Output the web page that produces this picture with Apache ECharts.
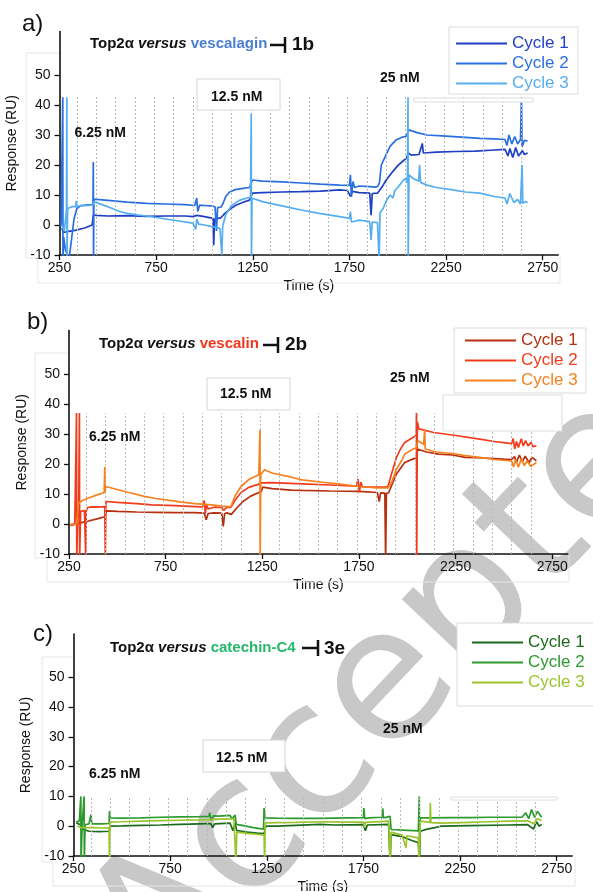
<!DOCTYPE html>
<html><head><meta charset="utf-8">
<script src="https://cdn.jsdelivr.net/npm/echarts@6/dist/echarts.min.js"></script>
<style>html,body{margin:0;padding:0;background:#fff}#c{width:593px;height:892px}</style>
</head><body><div id="c"></div>
<script>
// ---------- tick labels / markers ----------
const timeTicks = [250, 750, 1250, 1750, 2250, 2750];
const responseTicks = [-10, 0, 10, 20, 30, 40, 50];
const injectionMarks = [340,440,540,640,740,840,940,1040,1140,1240,1340,1440,1540,1640,1740,1840,1940,2040,2140,2240,2340,2440,2540,2640];
const markTops = [42.7, 37, 10];           // top of dotted markers, panels a,b,c
const cycleNames = ['Cycle 1', 'Cycle 2', 'Cycle 3'];
const panelLetters = ['a)', 'b)', 'c)'];
const compounds = ['vescalagin', 'vescalin', 'catechin-C4'];
const compoundCodes = ['1b', '2b', '3e'];
const concLabels = ['6.25 nM', '12.5 nM', '25 nM'];

// ---------- panel a : vescalagin (time s, response RU) ----------
const aCycle1 = [[262,-1],[270,-2.5],[290,-2.2],[330,-1.8],[380,-1],[419,0],[422,0.2],[425,3.4],[440,3.2],[500,3],[600,3.1],[700,2.9],[800,3],[900,3],[940,2.8],[960,3.2],[1000,2.8],[1044,2.2],[1048,-6.7],[1052,2],[1070,2.2],[1085,2.4],[1100,3.5],[1130,5.2],[1160,6.5],[1200,7.6],[1233,8.3],[1240,8.6],[1248,10.6],[1300,10.8],[1400,11],[1500,11.1],[1600,11.3],[1700,11.7],[1740,11.5],[1755,9.5],[1765,11.2],[1800,10.8],[1855,10.6],[1862,3.3],[1868,10.5],[1895,10.6],[1905,10.5],[1920,12.8],[1940,15],[1970,17.5],[2000,19.8],[2030,21.5],[2044,22.2],[2055,24],[2070,23.3],[2110,23.5],[2127,27.2],[2132,24],[2200,24.3],[2300,24.5],[2400,24.6],[2500,25],[2555,25.2],[2570,23],[2580,25.5],[2595,22.5],[2610,25.8],[2625,23],[2645,24.8],[2655,23.5],[2672,24]];
const aCycle2 = [[258,-0.6],[265,-0.5],[267,42.6],[268,-12],[272,-4],[280,-8],[290,-10],[300,-11],[310,-6],[325,2],[340,5.5],[360,6.5],[400,6.7],[423,6.8],[425,21],[426,-12],[428,8.6],[500,8.2],[600,7.6],[700,7.2],[800,7],[900,6.8],[950,6.5],[960,9],[965,4.5],[975,6.6],[1000,6.5],[1044,6.3],[1055,6],[1062,-2],[1068,5.8],[1085,6],[1095,7],[1110,9.5],[1130,11],[1160,11.8],[1200,12.2],[1233,12.5],[1240,12.8],[1248,15],[1300,14.6],[1400,14.4],[1500,14],[1600,13.6],[1700,13.3],[1750,13.2],[1755,16.7],[1760,9.4],[1768,14.5],[1777,12.5],[1800,13],[1855,12.8],[1880,12.6],[1895,12.8],[1905,14],[1915,20],[1935,22.8],[1960,26.2],[1990,28.3],[2020,29.2],[2044,29.6],[2050,30],[2058,31.7],[2100,30.8],[2150,30],[2250,29.6],[2350,29.2],[2424,28.9],[2500,28.7],[2555,28.5],[2565,26.5],[2575,30],[2590,27],[2605,29.5],[2620,27],[2635,28.5],[2640,42.6],[2643,26],[2655,28.2],[2672,28]];
const aCycle3 = [[262,0],[275,-2],[286,5],[288,42.6],[289,-12],[292,5.5],[320,6.2],[334,6],[336,8],[340,6.3],[400,6.5],[423,6.7],[428,7.8],[470,6.8],[520,5.6],[560,4.5],[600,3.9],[650,3.4],[700,3],[800,2],[850,1.5],[940,0.6],[955,-1.5],[960,2],[970,0.3],[1000,0],[1044,-0.6],[1050,-1],[1065,-0.8],[1080,-1.2],[1090,-10],[1094,-0.5],[1110,3.5],[1140,6.5],[1180,8.2],[1220,9],[1238,9.2],[1242,37.2],[1243,-12],[1246,8.9],[1300,7.8],[1400,6.4],[1500,5],[1600,3.8],[1700,2.8],[1750,2.2],[1755,4.5],[1760,1],[1800,1.6],[1855,1.1],[1862,-5],[1868,1],[1895,0.8],[1904,-12],[1908,4],[1925,5.6],[1940,8],[1960,10],[1975,9],[1985,11.5],[2000,12.5],[2030,15],[2044,15.6],[2050,14],[2053,42.6],[2054,-12],[2058,16.7],[2080,15.5],[2108,14.6],[2113,20],[2118,14.2],[2150,13.3],[2200,12.5],[2283,11.7],[2350,11],[2424,10.6],[2500,9.5],[2555,9],[2565,7],[2580,10.5],[2600,7.5],[2620,8.5],[2635,7],[2643,20],[2647,7.2],[2660,7.8],[2672,7.5]];

// ---------- panel b : vescalin ----------
const bCycle1 = [[256,-0.5],[270,-0.3],[300,0.3],[347,0.9],[400,1.8],[435,2.4],[438,2.5],[445,4.4],[500,4.2],[600,4],[700,3.9],[800,3.8],[900,3.8],[950,3.6],[960,1.4],[970,3.5],[1000,3.7],[1040,3.6],[1048,-0.8],[1055,3.4],[1067,3.7],[1090,3.2],[1096,3.1],[1120,5.5],[1150,7.5],[1190,9.3],[1232,10.5],[1245,10.8],[1252,12.3],[1300,11.8],[1400,11.3],[1456,11.2],[1600,11],[1748,10.9],[1845,10.5],[1855,7.5],[1862,10.4],[1884,10.3],[1888,-12],[1892,10.2],[1904,10.4],[1920,13],[1944,16.7],[1970,19],[1987,20.5],[2031,21.7],[2040,21.8],[2046,22],[2052,25],[2100,24],[2160,23.3],[2234,23],[2300,22.2],[2400,22],[2500,21.6],[2540,21.5],[2555,22.5],[2565,20.5],[2580,23],[2595,20.8],[2610,22.6],[2630,20.5],[2645,22.2],[2668,21.1]];
const bCycle2 = [[256,-0.2],[280,0],[288,-0.3],[289,37],[290,-12],[295,2],[300,4],[304,37],[305,-12],[310,4.2],[330,4.5],[336,4.2],[337,-12],[339,4.5],[347,5.5],[367,5.7],[400,5.6],[435,5.8],[438,-12],[441,7.5],[500,7.2],[600,6.8],[678,6.4],[800,6.1],[873,5.9],[940,5.7],[950,7.8],[955,3.5],[962,6.5],[970,5],[1000,5.6],[1040,5.5],[1050,4.5],[1067,5.6],[1087,5.5],[1096,5.5],[1110,8],[1140,10.5],[1180,12.2],[1232,13.3],[1245,13.7],[1252,13.9],[1300,13.8],[1456,13.4],[1600,13],[1738,12.6],[1745,15],[1752,10.5],[1760,14],[1767,12.4],[1800,12.3],[1884,12.3],[1900,12.5],[1920,17],[1944,22.2],[1965,25],[1987,27.2],[2031,28.9],[2046,29.5],[2048,37],[2049,-12],[2052,34],[2060,31.7],[2137,30.5],[2250,29.5],[2375,28.3],[2450,27.5],[2540,26.8],[2548,28.5],[2556,25],[2565,27.5],[2575,25.5],[2590,28.4],[2600,26],[2612,27.8],[2625,26],[2640,27.2],[2650,25.8],[2668,26.1]];
const bCycle3 = [[256,-0.3],[290,0],[299,7],[320,7.8],[347,8.6],[400,9.8],[432,10.5],[435,19],[436,10.5],[440,12.5],[500,11.5],[560,10.5],[639,9.2],[700,8.5],[834,7.3],[900,6.8],[989,6.4],[1040,6],[1087,5.7],[1096,5.7],[1110,9.5],[1140,12.5],[1180,14.8],[1232,16.4],[1236,16.5],[1238,31.4],[1239,-12],[1242,16.5],[1262,18.1],[1300,17],[1400,15.6],[1456,14.7],[1550,14],[1651,13.3],[1750,12.5],[1845,12],[1900,12],[1920,14],[1944,18.3],[1970,21],[1987,23.3],[2031,25],[2046,25.3],[2055,27.8],[2085,26.5],[2090,31.7],[2093,25],[2098,24.4],[2150,24],[2234,23.5],[2300,22.8],[2375,22.2],[2450,21.5],[2540,21],[2550,19],[2560,21.5],[2575,18.9],[2590,21.8],[2605,19.5],[2620,21],[2640,19.2],[2668,20.5]];

// ---------- panel c : catechin-C4 ----------
const cCycle1 = [[264,1.2],[285,0.5],[295,-1],[300,-1.5],[330,-1.7],[380,-1.8],[436,-1.7],[440,0],[500,0.1],[600,0.3],[700,0.4],[800,0.6],[900,0.8],[960,0.9],[970,-0.5],[980,0.8],[1060,1],[1075,-1.5],[1085,1.1],[1091,0.5],[1095,-1.5],[1150,-2],[1200,-2.3],[1236,-2.5],[1245,0],[1300,0],[1400,0.3],[1526,0.6],[1600,0.4],[1750,0.5],[1760,-1.5],[1770,0.4],[1880,0.6],[1888,-12],[1893,-2.8],[1950,-3.5],[2000,-4.8],[2034,-5.5],[2039,-12],[2044,-1.7],[2080,-1],[2120,-0.5],[2150,0],[2300,0.2],[2500,0.4],[2600,0.5],[2630,-1],[2645,1.5],[2660,0],[2672,0.6]];
const cCycle2 = [[264,1.5],[280,1.7],[288,10],[289,-12],[295,1],[305,10],[306,-12],[310,0.5],[330,0.8],[340,3.9],[345,0.8],[400,0.8],[434,0.9],[436,5],[440,2.8],[500,2.7],[600,2.8],[700,3],[800,3.1],[900,3.2],[950,3.3],[955,4.5],[962,2],[975,3.5],[1000,3.4],[1060,3.6],[1070,2.5],[1086,3.7],[1092,0.6],[1130,0.2],[1180,-0.5],[1233,-1],[1236,6.1],[1240,2.8],[1300,2.7],[1400,2.6],[1526,2.6],[1600,2.7],[1750,2.9],[1752,6.1],[1757,2.5],[1775,2.8],[1848,3],[1850,6],[1853,2.8],[1888,3.3],[1893,-1.1],[1950,-1.3],[2034,-1.6],[2039,10],[2040,-12],[2044,2.8],[2100,2.8],[2200,2.9],[2300,2.9],[2400,3],[2500,3],[2570,3],[2590,4.5],[2605,2.5],[2620,5.6],[2635,3],[2650,5],[2672,3]];
const cCycle3 = [[270,0],[295,-0.5],[300,-0.3],[350,-0.5],[400,-0.6],[434,-0.5],[436,-12],[438,1.4],[500,1.5],[600,1.7],[700,1.9],[800,2],[900,2.1],[960,2.2],[1000,2.4],[1080,2.5],[1090,-12],[1095,-2],[1150,-2.4],[1200,-2.7],[1236,-3],[1238,-12],[1242,1.1],[1300,1.2],[1400,1.3],[1526,1.5],[1650,1.4],[1750,1.4],[1755,-0.5],[1760,1.3],[1880,1.7],[1888,-12],[1893,-2],[1950,-3],[1970,-7.2],[1975,-3.2],[2034,-3.9],[2038,-12],[2044,1.7],[2094,1.3],[2096,7.8],[2099,1.2],[2150,1],[2200,1.1],[2300,1.3],[2400,1.5],[2500,1.7],[2600,1.8],[2630,0.8],[2650,2.5],[2672,1.9]];

const panelData = [[aCycle1, aCycle2, aCycle3],[bCycle1, bCycle2, bCycle3],[cCycle1, cCycle2, cCycle3]];

// ---------- styling / layout ----------
const FONT = '"Liberation Sans", Arial, sans-serif';
const palettes = [['#1f3fc4','#2a6fe0','#56aef0'],['#b4300f','#f23a1c','#f5821e'],['#1b6b1b','#2c9a2c','#9cc42a']];
const compoundColors = ['#4a7fd0','#f0361c','#25b86a'];
const grids = [
  {left:59.5, top:31.5, width:498.7, height:223.5},
  {left:69,   top:330.5, width:498.7, height:223.5},
  {left:73.5, top:634, width:498.7, height:222}
];
const legendPos = [{left:456, top:35}, {left:465, top:332}, {left:472, top:634}];
const legendBox = [[449,27,129,67],[454,328,132,65],[457,623,140,83]];
const letterPos = [[22,24],[27,322],[33,634]];
const titlePos = [[90,44],[99,344],[110,648]];
const titleBar = [[270,284,285,37,53],[263,276,278,337,353],[302,316,318,640,656]];
const codePos = [[292,45],[285,345],[324,649]];
const concPos = [[[74.5,133],[211,97],[380,78]],[[89,437],[220,394],[390,378]],[[89,774],[216,758],[383,729]]];
const concBox = [[197,79,83,31],[207,378,83,32],[203,740,82,32]];
const emptyBox = [[414,98,119,4],[443,395,119,36],[451,797,106,3]];
const frames = [
  [[26,53],[26,258],[38,258],[38,283],[560,283],[560,257]],
  [[35,353],[35,558],[47,558],[47,582],[569,582],[569,555]],
  [[42,657],[42,862],[53,862],[53,886],[575,886],[575,857]]
];
const frameTops = [[[26,53],[59,53]],[[35,353],[68,353]],[[42,657],[73,657]]];

const grid = [], xAxis = [], yAxis = [], series = [], legend = [], graphic = [];

// watermark (behind everything)
graphic.push({type:'text', x:126, y:968, rotation:0.813, z:-5, silent:true,
  style:{text:'Accepted', fontSize:185, fontFamily:'"DejaVu Sans", sans-serif', fill:'#c8c8c8', align:'left', verticalAlign:'middle'}});

const plain = v => String(v);
for (let p = 0; p < 3; p++) {
  grid.push(Object.assign({outerBoundsMode:'none'}, grids[p]));
  xAxis.push({
    type:'value', gridIndex:p, min:250, max:2830,
    name:'Time (s)', nameLocation:'middle', nameGap:24,
    nameTextStyle:{fontSize:14, fontFamily:FONT, color:'#111'},
    axisLine:{onZero:false, lineStyle:{color:'#111', width:1.6}},
    axisTick:{show:true, length:5, lineStyle:{color:'#111', width:1.3}, customValues: timeTicks},
    axisLabel:{fontSize:14, fontFamily:FONT, color:'#111', margin:6, customValues: timeTicks, formatter: plain},
    splitLine:{show:false}
  });
  yAxis.push({
    type:'value', gridIndex:p, min:-10, max:64.5,
    name:'Response (RU)', nameLocation:'middle', nameGap:32,
    nameTextStyle:{fontSize:14, fontFamily:FONT, color:'#111'},
    axisLine:{show:true, onZero:false, lineStyle:{color:'#111', width:1.6}},
    axisTick:{show:true, length:5, lineStyle:{color:'#111', width:1.3}, customValues: responseTicks},
    axisLabel:{fontSize:14, fontFamily:FONT, color:'#111', margin:9, customValues: responseTicks, formatter: plain},
    splitLine:{show:false}
  });
  // dotted injection markers
  series.push({
    type:'line', name:'marks'+p, xAxisIndex:p, yAxisIndex:p, data:[], silent:true, z:1,
    markLine:{silent:true, symbol:['none','none'], label:{show:false}, animation:false,
      lineStyle:{color:'#b9b9b9', width:1, type:[2,2]},
      data: injectionMarks.map(t => [{coord:[t,-10]},{coord:[t, markTops[p]]}])}
  });
  const legendData = [];
  for (let k = 0; k < 3; k++) {
    const nm = 'abc'[p] + '|' + cycleNames[k];
    series.push({
      type:'line', name:nm, xAxisIndex:p, yAxisIndex:p, data:panelData[p][k],
      symbol:'none', clip:true, animation:false, z:3 + k,
      lineStyle:{color:palettes[p][k], width:1.7}, itemStyle:{color:palettes[p][k]}
    });
    legendData.push({name:nm, textStyle:{color:palettes[p][k]}});
  }
  legend.push({
    left:legendPos[p].left, top:legendPos[p].top, orient:'vertical', padding:0,
    itemWidth:51, itemHeight:2, itemGap:3, icon:'rect', selectedMode:false,
    textStyle:{fontSize:17, fontFamily:FONT}, data:legendData,
    formatter: n => n.split('|')[1]
  });
  // boxes and frames
  const lb = legendBox[p];
  graphic.push({type:'rect', z:2, silent:true, shape:{x:lb[0], y:lb[1], width:lb[2], height:lb[3]}, style:{fill:'#fff', stroke:'#dcdcdc', lineWidth:1}});
  const cb = concBox[p];
  graphic.push({type:'rect', z:10, silent:true, shape:{x:cb[0], y:cb[1], width:cb[2], height:cb[3]}, style:{fill:'#fff', stroke:'#d6d6d6', lineWidth:1}});
  const eb = emptyBox[p];
  graphic.push({type:'rect', z:10, silent:true, shape:{x:eb[0], y:eb[1], width:eb[2], height:eb[3]}, style:{fill:'#fff', stroke:'#dedede', lineWidth:1}});
  graphic.push({type:'polyline', z:1, silent:true, shape:{points:frames[p]}, style:{fill:null, stroke:'#e6e6e6', lineWidth:1}});
  graphic.push({type:'polyline', z:1, silent:true, shape:{points:frameTops[p]}, style:{fill:null, stroke:'#e6e6e6', lineWidth:1}});
  // panel letter
  graphic.push({type:'text', z:20, silent:true, x:letterPos[p][0], y:letterPos[p][1],
    style:{text:panelLetters[p], fontSize:24, fontFamily:FONT, fill:'#111', verticalAlign:'middle'}});
  // title
  graphic.push({type:'text', z:20, silent:true, x:titlePos[p][0], y:titlePos[p][1],
    style:{text:'{b|Top2α }{i|versus }{c|' + compounds[p] + '}', verticalAlign:'middle',
      rich:{b:{fontSize:15, fontWeight:'bold', fontFamily:FONT, fill:'#111'},
            i:{fontSize:15, fontWeight:'bold', fontStyle:'italic', fontFamily:FONT, fill:'#111'},
            c:{fontSize:15, fontWeight:'bold', fontFamily:FONT, fill:compoundColors[p]}}}});
  const tb = titleBar[p];
  graphic.push({type:'line', z:20, silent:true, shape:{x1:tb[0], y1:(tb[3]+tb[4])/2, x2:tb[2], y2:(tb[3]+tb[4])/2}, style:{stroke:'#111', lineWidth:2.5}});
  graphic.push({type:'line', z:20, silent:true, shape:{x1:tb[2], y1:tb[3], x2:tb[2], y2:tb[4]}, style:{stroke:'#111', lineWidth:2.5}});
  graphic.push({type:'text', z:20, silent:true, x:codePos[p][0], y:codePos[p][1],
    style:{text:compoundCodes[p], fontSize:19, fontWeight:'bold', fontFamily:FONT, fill:'#111', verticalAlign:'middle'}});
  // concentration labels
  for (let k = 0; k < 3; k++) {
    graphic.push({type:'text', z:21, silent:true, x:concPos[p][k][0], y:concPos[p][k][1],
      style:{text:concLabels[k], fontSize:14, fontWeight:'bold', fontFamily:FONT, fill:'#111', verticalAlign:'middle'}});
  }
}

const chart = echarts.init(document.getElementById('c'), null, {renderer:'canvas'});
chart.setOption({animation:false, backgroundColor:'#fff', grid, xAxis, yAxis, series, legend, graphic});
</script></body></html>
